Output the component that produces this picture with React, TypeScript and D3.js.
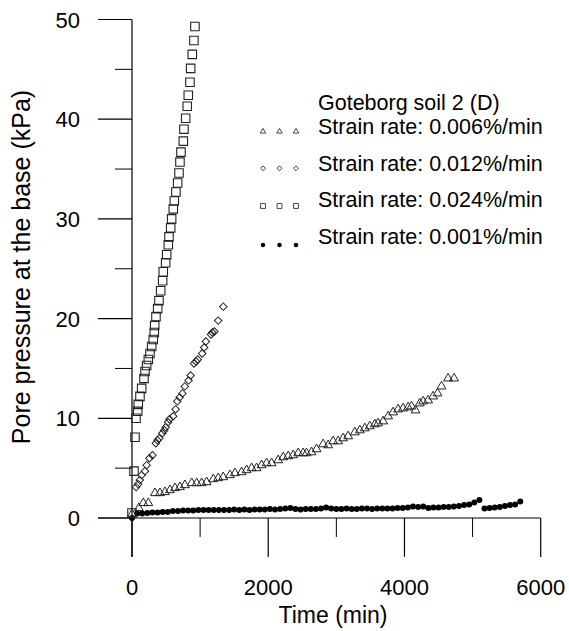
import React from "react";
import * as d3 from "d3";

const W = 569;
const H = 631;

const xTicksMajor = [0, 2000, 4000, 6000];
const xTicksMinor = [1000, 3000, 5000];
const yTicksMajor = [0, 10, 20, 30, 40, 50];
const yTicksMinor = [5, 15, 25, 35, 45];

const legendTitle = "Goteborg soil 2 (D)";
const legendLabels = [
  "Strain rate: 0.006%/min",
  "Strain rate: 0.012%/min",
  "Strain rate: 0.024%/min",
  "Strain rate: 0.001%/min",
];

// 0.006%/min (triangles)
const triTime = [0, 100, 166, 239, 337, 411, 484, 557, 631, 704, 777, 876, 949, 1022, 1096, 1193, 1266, 1339, 1438, 1511, 1609, 1683, 1756, 1829, 1903, 1976, 2049, 2146, 2220, 2293, 2366, 2440, 2513, 2562, 2636, 2710, 2806, 2880, 2953, 3026, 3100, 3173, 3271, 3345, 3418, 3491, 3565, 3613, 3687, 3760, 3833, 3907, 3980, 4053, 4103, 4162, 4225, 4274, 4347, 4420, 4485, 4543, 4640, 4728];
const triVal = [0.4, 1.0, 1.5, 1.5, 2.5, 2.5, 2.6, 2.8, 3.0, 3.1, 3.3, 3.5, 3.5, 3.5, 3.6, 3.9, 4.0, 4.1, 4.3, 4.5, 4.6, 4.8, 5.0, 5.0, 5.3, 5.5, 5.5, 5.8, 6.1, 6.2, 6.3, 6.5, 6.5, 6.5, 6.6, 6.9, 7.4, 7.3, 7.7, 7.7, 8.0, 8.2, 8.6, 8.8, 9.0, 9.2, 9.4, 9.5, 9.7, 10.2, 10.6, 10.9, 11.0, 11.1, 11.2, 10.8, 11.5, 11.7, 11.8, 12.2, 12.5, 13.2, 14.0, 14.0];

// 0.012%/min (diamonds)
const diaTime = [60, 90, 115, 140, 190, 215, 255, 300, 350, 375, 400, 445, 475, 495, 530, 550, 605, 640, 665, 700, 740, 775, 830, 860, 910, 940, 965, 1030, 1060, 1085, 1160, 1180, 1210, 1265, 1340];
const diaVal = [3.1, 3.4, 3.8, 4.3, 4.7, 5.3, 6.0, 6.3, 7.5, 7.8, 8.0, 8.5, 8.8, 9.1, 9.6, 9.9, 10.2, 10.9, 11.7, 12.1, 12.5, 13.2, 13.8, 14.3, 15.5, 15.7, 15.9, 16.5, 17.1, 17.7, 18.4, 18.6, 18.7, 19.8, 21.2];

// 0.024%/min (squares)
const sqTime = [0, 29, 44, 59, 84, 92, 117, 142, 176, 191, 215, 240, 264, 289, 312, 327, 333, 352, 377, 396, 421, 450, 459, 494, 509, 533, 543, 568, 582, 606, 621, 645, 670, 690, 704, 719, 753, 763, 788, 811, 826, 851, 861, 885, 909, 924];
const sqVal = [0.5, 4.7, 8.1, 10.0, 10.7, 11.4, 12.2, 13.0, 14.0, 14.7, 15.3, 15.9, 16.5, 17.2, 17.9, 18.6, 19.3, 20.2, 21.0, 21.8, 22.8, 23.8, 24.7, 25.6, 26.4, 27.4, 28.2, 29.1, 30.0, 31.0, 31.8, 32.7, 33.6, 34.6, 35.7, 36.7, 37.8, 39.0, 40.1, 41.3, 42.4, 43.7, 45.1, 46.5, 47.9, 49.3];

// 0.001%/min (filled dots)
const dotTime = [0, 75, 150, 225, 300, 375, 450, 525, 600, 675, 750, 825, 900, 975, 1050, 1125, 1200, 1275, 1350, 1425, 1500, 1575, 1650, 1725, 1800, 1875, 1950, 2025, 2100, 2175, 2250, 2325, 2400, 2475, 2550, 2625, 2700, 2775, 2850, 2925, 3000, 3075, 3150, 3225, 3300, 3375, 3450, 3525, 3600, 3675, 3750, 3825, 3900, 3975, 4050, 4125, 4200, 4275, 4350, 4425, 4500, 4575, 4650, 4725, 4800, 4875, 4950, 5025, 5100, 5175, 5250, 5325, 5400, 5475, 5550, 5625, 5700];
const dotVal = [0.0, 0.45, 0.45, 0.5, 0.55, 0.55, 0.6, 0.6, 0.7, 0.7, 0.75, 0.75, 0.75, 0.8, 0.8, 0.8, 0.8, 0.8, 0.8, 0.8, 0.85, 0.8, 0.85, 0.8, 0.85, 0.85, 0.85, 0.9, 0.85, 0.9, 0.95, 1.0, 0.9, 0.85, 0.9, 0.9, 0.9, 0.95, 1.05, 0.95, 0.9, 0.9, 0.95, 0.9, 0.9, 0.95, 0.95, 0.9, 0.95, 0.95, 0.95, 0.95, 1.0, 1.0, 1.05, 1.15, 1.1, 1.15, 1.0, 1.05, 1.05, 1.1, 1.1, 1.15, 1.2, 1.3, 1.35, 1.55, 1.8, 0.95, 1.0, 1.05, 1.1, 1.2, 1.3, 1.35, 1.65];

const FONT = "'Liberation Sans', Arial, sans-serif";

export default function App() {
  const x = d3.scaleLinear().domain([0, 6000]).range([132, 540.7]);
  const y = d3.scaleLinear().domain([0, 50]).range([518, 19.5]);

  const triPath = d3.symbol(d3.symbolTriangle, 34)() as string;
  const sqPath = d3.symbol(d3.symbolSquare, 72)() as string;
  const diaPath = d3.symbol(d3.symbolSquare, 28)() as string;
  const dotPath = d3.symbol(d3.symbolCircle, 28)() as string;

  const lTri = d3.symbol(d3.symbolTriangle, 13)() as string;
  const lSq = d3.symbol(d3.symbolSquare, 24)() as string;
  const lDia = d3.symbol(d3.symbolSquare, 12)() as string;
  const lDot = d3.symbol(d3.symbolCircle, 16)() as string;

  const stroke = "#222";
  const yBottom = y(-3.9);
  const minorBottom = y(-1.9);

  const legendRows = [
    { label: legendLabels[0], path: lTri, rot: 0, fill: "none" },
    { label: legendLabels[1], path: lDia, rot: 45, fill: "none" },
    { label: legendLabels[2], path: lSq, rot: 0, fill: "none" },
    { label: legendLabels[3], path: lDot, rot: 0, fill: "#000" },
  ];
  const legendSymX = [263, 279.5, 296];
  const legendBase = [134, 170.5, 207, 243.5];
  const legendSymY = [131.5, 168.3, 206, 245];

  return (
    <svg
      width={W}
      height={H}
      style={{ position: "absolute", left: 0, top: 0, background: "#fff" }}
      fontFamily={FONT}
    >
      <rect x={0} y={0} width={W} height={H} fill="#fff" />
      {/* axes */}
      <line x1={x(0)} x2={x(0)} y1={y(50)} y2={yBottom} stroke="#000" strokeWidth={1.2} />
      <line x1={98} x2={x(6000)} y1={y(0)} y2={y(0)} stroke="#000" strokeWidth={1.2} />
      {yTicksMajor.map((t) => (
        <g key={"ym" + t}>
          <line x1={98} x2={x(0)} y1={y(t)} y2={y(t)} stroke="#000" strokeWidth={1.2} />
          <text x={80} y={y(t) + 8} fontSize={22} textAnchor="end">
            {t}
          </text>
        </g>
      ))}
      {yTicksMinor.map((t) => (
        <line key={"yn" + t} x1={115} x2={x(0)} y1={y(t)} y2={y(t)} stroke="#000" strokeWidth={1} />
      ))}
      {xTicksMajor.map((t) => (
        <g key={"xm" + t}>
          <line x1={x(t)} x2={x(t)} y1={y(0)} y2={yBottom} stroke="#000" strokeWidth={1.2} />
          <text x={x(t)} y={595} fontSize={22} textAnchor="middle">
            {t}
          </text>
        </g>
      ))}
      {xTicksMinor.map((t) => (
        <line key={"xn" + t} x1={x(t)} x2={x(t)} y1={y(0)} y2={minorBottom} stroke="#000" strokeWidth={1} />
      ))}
      <text x={333} y={623} fontSize={23} textAnchor="middle">
        Time (min)
      </text>
      <text transform="translate(30,267) rotate(-90)" fontSize={25} textAnchor="middle">
        Pore pressure at the base (kPa)
      </text>

      {/* data */}
      {dotTime.map((t, i) => (
        <path key={"d" + i} d={dotPath} transform={`translate(${x(t)},${y(dotVal[i])})`} fill="#000" />
      ))}
      {triTime.map((t, i) => (
        <path key={"t" + i} d={triPath} transform={`translate(${x(t)},${y(triVal[i])})`} fill="none" stroke={stroke} strokeWidth={1} />
      ))}
      {diaTime.map((t, i) => (
        <path key={"i" + i} d={diaPath} transform={`translate(${x(t)},${y(diaVal[i])}) rotate(45)`} fill="none" stroke={stroke} strokeWidth={1} />
      ))}
      {sqTime.map((t, i) => (
        <path key={"s" + i} d={sqPath} transform={`translate(${x(t)},${y(sqVal[i])})`} fill="none" stroke={stroke} strokeWidth={1.1} />
      ))}

      {/* legend */}
      <text x={318} y={110} fontSize={21.5}>
        {legendTitle}
      </text>
      {legendRows.map((r, i) => (
        <g key={"l" + i}>
          {legendSymX.map((sx, j) => (
            <path
              key={j}
              d={r.path}
              transform={`translate(${sx},${legendSymY[i]}) rotate(${r.rot})`}
              fill={r.fill}
              stroke={r.fill === "none" ? "#333" : "none"}
              strokeWidth={0.9}
            />
          ))}
          <text x={318} y={legendBase[i]} fontSize={21.5}>
            {r.label}
          </text>
        </g>
      ))}
    </svg>
  );
}
